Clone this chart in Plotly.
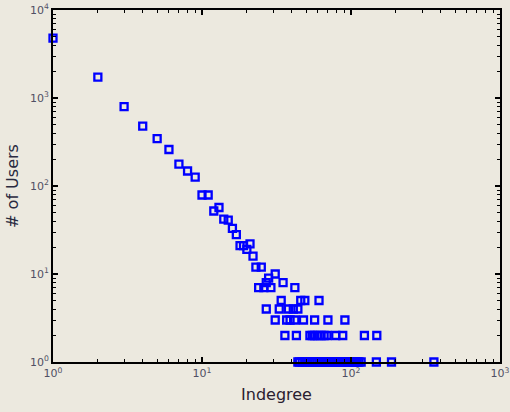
import plotly.graph_objects as go

# Indegree (x) and number of users (y)
indegree = [1, 2, 3, 4, 5, 6, 7, 8, 9, 10, 11, 12, 13, 14, 15, 16, 17, 18, 19, 20, 21,
            22, 23, 25, 28, 31, 27, 35, 24, 26, 29, 42,
            34, 46, 49, 61,
            27, 33, 38, 41, 44,
            31, 37, 39, 42, 48, 57, 70, 91,
            36, 43, 53, 55, 57, 60, 63, 66, 69, 79, 88, 123, 149,
            44, 45, 47, 49, 51, 53, 55, 57, 59, 61, 63, 65, 67, 69, 71, 73, 75, 77,
            80, 83, 86, 89, 92, 95, 98, 101, 104, 107, 110, 113, 117, 148, 187, 360]
users = [4800, 1730, 800, 480, 345, 260, 177, 148, 126, 79, 79, 52, 57, 42, 41, 33, 28, 21, 21, 19, 22,
         16, 12, 12, 9, 10, 8, 8, 7, 7, 7, 7,
         5, 5, 5, 5,
         4, 4, 4, 4, 4,
         3, 3, 3, 3, 3, 3, 3, 3,
         2, 2, 2, 2, 2, 2, 2, 2, 2, 2, 2, 2, 2,
         1, 1, 1, 1, 1, 1, 1, 1, 1, 1, 1, 1, 1, 1, 1, 1, 1, 1,
         1, 1, 1, 1, 1, 1, 1, 1, 1, 1, 1, 1, 1, 1, 1, 1]

x_tickvals = [1, 10, 100, 1000]
x_ticktext = ["10<sup>0</sup>", "10<sup>1</sup>", "10<sup>2</sup>", "10<sup>3</sup>"]
y_tickvals = [1, 10, 100, 1000, 10000]
y_ticktext = ["10<sup>0</sup>", "10<sup>1</sup>", "10<sup>2</sup>", "10<sup>3</sup>", "10<sup>4</sup>"]
minor_digits = [2, 3, 4, 5, 6, 7, 8, 9]

BG = "#ECE9DF"
FONT = "DejaVu Sans, Verdana, sans-serif"


def minor_vals(major):
    return [d * m for m in major[:-1] for d in minor_digits]


fig = go.Figure()
# empty trace to create the overlay subplot that carries the minor ticks
fig.add_trace(go.Scatter(x=[], y=[], xaxis="x2", yaxis="y2", showlegend=False, hoverinfo="skip"))
fig.add_trace(go.Scatter(
    x=indegree, y=users, mode="markers",
    marker=dict(symbol="square-open", size=7, color="#0000FF",
                line=dict(width=2.3, color="#0000FF")),
    cliponaxis=False, showlegend=False,
))

major_common = dict(
    type="log", showgrid=False, zeroline=False, automargin=False,
    showline=True, linecolor="black", linewidth=2, mirror="ticks",
    ticks="inside", ticklen=5, tickwidth=1.5, tickcolor="black",
    tickfont=dict(family=FONT, size=11, color="#505064"),
)
minor_common = dict(
    type="log", showgrid=False, zeroline=False, automargin=False,
    showline=False, mirror="ticks", showticklabels=False,
    ticks="inside", ticklen=3, tickwidth=1.2, tickcolor="black",
)

fig.update_layout(
    width=510, height=412,
    margin=dict(l=53, r=10, t=10, b=50),
    paper_bgcolor=BG, plot_bgcolor=BG,
    xaxis=dict(range=[0, 3], tickmode="array", tickvals=x_tickvals, ticktext=x_ticktext,
               title=dict(text="Indegree", font=dict(family=FONT, size=16, color="#2a2030"), standoff=10),
               **major_common),
    yaxis=dict(range=[0, 4], tickmode="array", tickvals=y_tickvals, ticktext=y_ticktext,
               title=dict(text="# of Users", font=dict(family=FONT, size=16, color="#2a2a40"), standoff=7),
               **major_common),
    xaxis2=dict(range=[0, 3], overlaying="x", anchor="y2", tickmode="array",
                tickvals=minor_vals(x_tickvals), **minor_common),
    yaxis2=dict(range=[0, 4], overlaying="y", anchor="x2", tickmode="array",
                tickvals=minor_vals(y_tickvals), **minor_common),
)

fig.write_html("out.html", config={"displayModeBar": False},
               post_script="document.body.style.margin='0';")
